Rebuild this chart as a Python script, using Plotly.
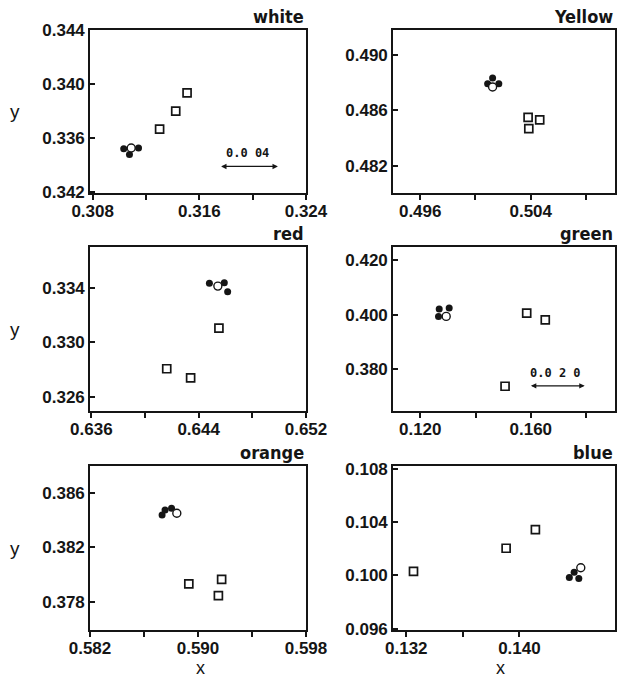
import plotly.graph_objects as go

# ---------------- data ----------------
panel_names = ["white", "Yellow", "red", "green", "orange", "blue"]

white_filled_x = [0.31033, 0.31144, 0.31076]
white_filled_y = [0.33519, 0.33524, 0.33475]
white_open_x = [0.31089]
white_open_y = [0.33524]
white_sq_x = [0.31302, 0.31423, 0.31508]
white_sq_y = [0.33664, 0.33798, 0.33933]

yellow_filled_x = [0.50124, 0.50088, 0.50169]
yellow_filled_y = [0.48836, 0.48794, 0.48794]
yellow_open_x = [0.50124]
yellow_open_y = [0.48770]
yellow_sq_x = [0.50381, 0.50465, 0.50386]
yellow_sq_y = [0.48550, 0.48532, 0.48469]

red_filled_x = [0.64480, 0.64591, 0.64616]
red_filled_y = [0.33432, 0.33436, 0.33371]
red_open_x = [0.64543]
red_open_y = [0.33412]
red_sq_x = [0.64551, 0.64162, 0.64340]
red_sq_y = [0.33105, 0.32807, 0.32741]

green_filled_x = [0.12686, 0.13047, 0.12661]
green_filled_y = [0.40211, 0.40248, 0.39941]
green_open_x = [0.12939]
green_open_y = [0.39941]
green_sq_x = [0.15852, 0.16524, 0.15069]
green_sq_y = [0.40063, 0.39815, 0.37370]

orange_filled_x = [0.58734, 0.58756, 0.58804]
orange_filled_y = [0.38440, 0.38477, 0.38489]
orange_open_x = [0.58843]
orange_open_y = [0.38452]
orange_sq_x = [0.58932, 0.59175, 0.59151]
orange_sq_y = [0.37931, 0.37965, 0.37844]

blue_filled_x = [0.14353, 0.14387, 0.14420]
blue_filled_y = [0.09983, 0.10024, 0.09976]
blue_open_x = [0.14434]
blue_open_y = [0.10057]
blue_sq_x = [0.13251, 0.13906, 0.14113]
blue_sq_y = [0.10029, 0.10203, 0.10343]

# tick values / labels
white_xticks = [0.308, 0.312, 0.316, 0.320, 0.324]
white_xlabels = ["0.308", "", "0.316", "", "0.324"]
white_yticks = [0.332, 0.336, 0.340, 0.344]
white_ylabels = ["0.342", "0.336", "0.340", "0.344"]

yellow_xticks = [0.496, 0.500, 0.504, 0.508]
yellow_xlabels = ["0.496", "", "0.504", ""]
yellow_yticks = [0.482, 0.486, 0.490]
yellow_ylabels = ["0.482", "0.486", "0.490"]

red_xticks = [0.636, 0.640, 0.644, 0.648, 0.652]
red_xlabels = ["0.636", "", "0.644", "", "0.652"]
red_yticks = [0.326, 0.330, 0.334]
red_ylabels = ["0.326", "0.330", "0.334"]

green_xticks = [0.120, 0.140, 0.160, 0.180]
green_xlabels = ["0.120", "", "0.160", ""]
green_yticks = [0.380, 0.400, 0.420]
green_ylabels = ["0.380", "0.400", "0.420"]

orange_xticks = [0.582, 0.586, 0.590, 0.594, 0.598]
orange_xlabels = ["0.582", "", "0.590", "", "0.598"]
orange_yticks = [0.378, 0.382, 0.386]
orange_ylabels = ["0.378", "0.382", "0.386"]

blue_xticks = [0.132, 0.136, 0.140]
blue_xlabels = ["0.132", "", "0.140"]
blue_yticks = [0.096, 0.100, 0.104, 0.108]
blue_ylabels = ["0.096", "0.100", "0.104", "0.108"]

# scale bars
scale_bar_panels = [0, 3]
scale_bar_x0 = [0.31752, 0.1595]
scale_bar_x1 = [0.32189, 0.1795]
scale_bar_y = [0.33387, 0.37385]
scale_bar_labels = ["0.0 04", "0.0 2 0"]
scale_bar_label_x = [0.31960, 0.16900]
scale_bar_label_y = [0.33490, 0.37850]

# ---------------- layout setup ----------------
W, H = 621, 679
x_ranges = [[0.3078, 0.3240], [0.49403, 0.5101], [0.6359, 0.6520],
            [0.11014, 0.19047], [0.5820, 0.5980], [0.13106, 0.14676]]
y_ranges = [[0.3319, 0.3440], [0.48002, 0.49183], [0.32498, 0.33698],
            [0.36459, 0.42496], [0.37591, 0.38801], [0.0959, 0.1082]]

col_px = [(90, 306), (393, 615)]
row_px = [(30, 193), (247, 411), (466, 630)]

panels = [
    (white_filled_x, white_filled_y, white_open_x, white_open_y, white_sq_x, white_sq_y,
     white_xticks, white_xlabels, white_yticks, white_ylabels),
    (yellow_filled_x, yellow_filled_y, yellow_open_x, yellow_open_y, yellow_sq_x, yellow_sq_y,
     yellow_xticks, yellow_xlabels, yellow_yticks, yellow_ylabels),
    (red_filled_x, red_filled_y, red_open_x, red_open_y, red_sq_x, red_sq_y,
     red_xticks, red_xlabels, red_yticks, red_ylabels),
    (green_filled_x, green_filled_y, green_open_x, green_open_y, green_sq_x, green_sq_y,
     green_xticks, green_xlabels, green_yticks, green_ylabels),
    (orange_filled_x, orange_filled_y, orange_open_x, orange_open_y, orange_sq_x, orange_sq_y,
     orange_xticks, orange_xlabels, orange_yticks, orange_ylabels),
    (blue_filled_x, blue_filled_y, blue_open_x, blue_open_y, blue_sq_x, blue_sq_y,
     blue_xticks, blue_xlabels, blue_yticks, blue_ylabels),
]

INK = "#151515"
tick_font = dict(family="Liberation Sans, Arial, sans-serif", size=17, color=INK, weight="bold")
title_font = dict(family="Liberation Sans Narrow, DejaVu Sans Condensed, Roboto Condensed, Liberation Sans, sans-serif",
                  size=18, color=INK, weight="bold")
axis_label_font = dict(family="Liberation Sans, Arial, sans-serif", size=18, color=INK)

fig = go.Figure()
layout = {}
annotations = []

for i, p in enumerate(panels):
    fx, fy, ox, oy, sx, sy, xt, xl, yt, yl = p
    n = i + 1
    xa = "x" if n == 1 else f"x{n}"
    ya = "y" if n == 1 else f"y{n}"
    r, c = divmod(i, 2)
    x0, x1 = col_px[c]
    y0, y1 = row_px[r]

    fig.add_trace(go.Scatter(x=sx, y=sy, mode="markers", xaxis=xa, yaxis=ya,
                             marker=dict(symbol="square-open", size=8, color=INK,
                                         line=dict(width=1.7, color=INK)),
                             showlegend=False, hoverinfo="x+y"))
    fig.add_trace(go.Scatter(x=fx, y=fy, mode="markers", xaxis=xa, yaxis=ya,
                             marker=dict(symbol="circle", size=7, color=INK,
                                         line=dict(width=0)),
                             showlegend=False, hoverinfo="x+y"))
    fig.add_trace(go.Scatter(x=ox, y=oy, mode="markers", xaxis=xa, yaxis=ya,
                             marker=dict(symbol="circle", size=8, color="white",
                                         line=dict(width=1.4, color=INK)),
                             showlegend=False, hoverinfo="x+y"))

    common = dict(showgrid=False, zeroline=False, showline=True, linecolor=INK,
                  linewidth=1.6, mirror=True, tickfont=tick_font, automargin=False,
                  tickcolor=INK, tickwidth=1.5, ticklen=5)
    layout["xaxis" if n == 1 else f"xaxis{n}"] = dict(
        domain=[x0 / W, x1 / W], range=x_ranges[i], anchor=ya, ticklabelstandoff=-3,
        tickmode="array", tickvals=xt, ticktext=xl, ticks="outside", **common)
    layout["yaxis" if n == 1 else f"yaxis{n}"] = dict(
        domain=[1 - y1 / H, 1 - y0 / H], range=y_ranges[i], anchor=xa,
        tickmode="array", tickvals=yt, ticktext=yl, ticks="inside", **common)

    annotations.append(dict(text=panel_names[i], xref=f"{xa} domain", yref=f"{ya} domain",
                            x=1.0, y=1.0, xanchor="right", yanchor="bottom", yshift=1,
                            showarrow=False, font=title_font))
    if c == 0:
        annotations.append(dict(text="y", xref="paper", yref=f"{ya} domain",
                                x=15 / W, y=0.5, xanchor="center", yanchor="middle",
                                showarrow=False, font=dict(axis_label_font, size=19)))
    if r == 2:
        annotations.append(dict(text="x", xref=f"{xa} domain", yref="paper",
                                x=(200 - x0) / (x1 - x0) if c == 0 else (500 - x0) / (x1 - x0),
                                y=1 - 668 / H, xanchor="center", yanchor="middle",
                                showarrow=False, font=axis_label_font))

for k, pi in enumerate(scale_bar_panels):
    n = pi + 1
    xa = "x" if n == 1 else f"x{n}"
    ya = "y" if n == 1 else f"y{n}"
    annotations.append(dict(x=scale_bar_x1[k], y=scale_bar_y[k], ax=scale_bar_x0[k], ay=scale_bar_y[k],
                            xref=xa, yref=ya, axref=xa, ayref=ya, text="", showarrow=True,
                            arrowside="end+start", arrowhead=2, arrowsize=0.9, arrowwidth=1.2,
                            arrowcolor=INK))
    annotations.append(dict(x=scale_bar_label_x[k], y=scale_bar_label_y[k], xref=xa, yref=ya,
                            text=scale_bar_labels[k], showarrow=False,
                            font=dict(family="DejaVu Sans Mono, monospace", size=12, color=INK,
                                      weight="bold")))

fig.update_layout(width=W, height=H, margin=dict(l=0, r=0, t=0, b=0),
                  paper_bgcolor="white", plot_bgcolor="white",
                  annotations=annotations, **layout)

fig.write_html("out.html", config={"displayModeBar": False},
               post_script="document.body.style.margin='0px';document.body.style.overflow='hidden';")
